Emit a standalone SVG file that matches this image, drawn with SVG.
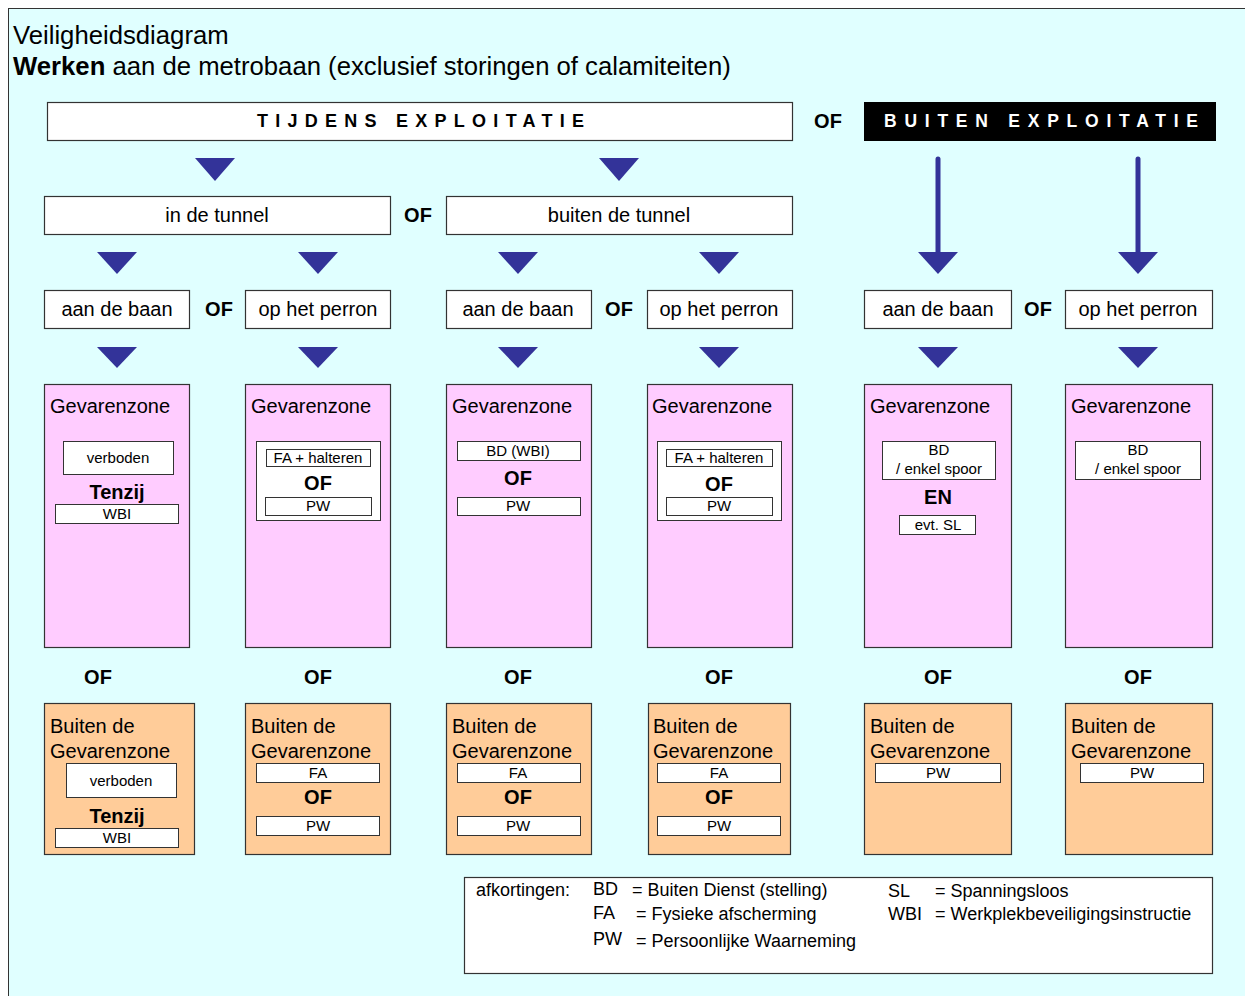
<svg xmlns="http://www.w3.org/2000/svg" width="1245" height="996" viewBox="0 0 1245 996">
<defs>
<style>
text{font-family:"Liberation Sans",Arial,sans-serif;fill:#000}
.box{fill:#fff;stroke:#333;stroke-width:1.2}
.pink{fill:#FFCCFF;stroke:#333;stroke-width:1.2}
.orange{fill:#FFCC99;stroke:#333;stroke-width:1.2}
.ib{fill:#fff;stroke:#333;stroke-width:1}
.tri{fill:#333399}
.t20{font-size:20px}
.b20{font-size:20px;font-weight:bold}
.t15{font-size:15px}
.t18{font-size:18px}
.m{text-anchor:middle}
</style>
</defs>
<rect x="0" y="0" width="1245" height="996" fill="#fff"/>
<rect x="8.5" y="8.5" width="1240" height="992" fill="#E0FFFF" stroke="#333" stroke-width="1"/>

<g id="title">
<text x="13" y="44" style="font-size:25.7px">Veiligheidsdiagram</text>
<text x="13" y="75" style="font-size:25.7px"><tspan font-weight="bold">Werken</tspan> aan de metrobaan (exclusief storingen of calamiteiten)</text>
</g>

<g id="connectors">
<polygon class="tri" points="195,158 235,158 215,181"/>
<polygon class="tri" points="599,158 639,158 619,181"/>
<line x1="938" y1="159" x2="938" y2="256" stroke="#333399" stroke-width="5" stroke-linecap="round"/>
<line x1="1138" y1="159" x2="1138" y2="256" stroke="#333399" stroke-width="5" stroke-linecap="round"/>
<polygon class="tri" points="97,252 137,252 117,274"/>
<polygon class="tri" points="298,252 338,252 318,274"/>
<polygon class="tri" points="498,252 538,252 518,274"/>
<polygon class="tri" points="699,252 739,252 719,274"/>
<polygon class="tri" points="918,252 958,252 938,274"/>
<polygon class="tri" points="1118,252 1158,252 1138,274"/>
<polygon class="tri" points="97,347 137,347 117,368"/>
<polygon class="tri" points="298,347 338,347 318,368"/>
<polygon class="tri" points="498,347 538,347 518,368"/>
<polygon class="tri" points="699,347 739,347 719,368"/>
<polygon class="tri" points="918,347 958,347 938,368"/>
<polygon class="tri" points="1118,347 1158,347 1138,368"/>
</g>

<g id="tijdens">
<rect class="box" x="47.5" y="102.5" width="745" height="38"/>
<text x="257" y="127" style="font-size:18px;font-weight:bold" textLength="327" lengthAdjust="spacing">TIJDENS EXPLOITATIE</text>
</g>
<g id="of-top"><text class="b20 m" x="828" y="128">OF</text></g>
<g id="buiten-exploitatie">
<rect x="864" y="102" width="352" height="39" fill="#000"/>
<text x="884" y="127" style="font-size:17.5px;font-weight:bold;fill:#fff" textLength="314" lengthAdjust="spacing">BUITEN EXPLOITATIE</text>
</g>

<g id="in-de-tunnel">
<rect class="box" x="44.5" y="196.5" width="346" height="38"/>
<text class="t20 m" x="217" y="222">in de tunnel</text>
</g>
<g id="of-tunnel"><text class="b20 m" x="418" y="222">OF</text></g>
<g id="buiten-de-tunnel">
<rect class="box" x="446.5" y="196.5" width="346" height="38"/>
<text class="t20 m" x="619" y="222">buiten de tunnel</text>
</g>

<g id="row3">
<g id="r3a"><rect class="box" x="44.5" y="290.5" width="145" height="38"/><text class="t20 m" x="117" y="316">aan de baan</text></g>
<text class="b20 m" x="219" y="316">OF</text>
<g id="r3b"><rect class="box" x="245.5" y="290.5" width="145" height="38"/><text class="t20 m" x="318" y="316">op het perron</text></g>
<g id="r3c"><rect class="box" x="446.5" y="290.5" width="145" height="38"/><text class="t20 m" x="518" y="316">aan de baan</text></g>
<text class="b20 m" x="619" y="316">OF</text>
<g id="r3d"><rect class="box" x="647.5" y="290.5" width="145" height="38"/><text class="t20 m" x="719" y="316">op het perron</text></g>
<g id="r3e"><rect class="box" x="864.5" y="290.5" width="147" height="38"/><text class="t20 m" x="938" y="316">aan de baan</text></g>
<text class="b20 m" x="1038" y="316">OF</text>
<g id="r3f"><rect class="box" x="1065.5" y="290.5" width="147" height="38"/><text class="t20 m" x="1138" y="316">op het perron</text></g>
</g>

<g id="gz1">
<rect class="pink" x="44.5" y="384.5" width="145" height="263"/>
<text class="t20" x="50" y="413">Gevarenzone</text>
<rect class="ib" x="63.5" y="441.5" width="110" height="33"/>
<text class="t15 m" x="118" y="463">verboden</text>
<text class="b20 m" x="117" y="499">Tenzij</text>
<rect class="ib" x="55.5" y="504.5" width="123" height="19"/>
<text class="t15 m" x="117" y="519">WBI</text>
</g>
<g id="gz2">
<rect class="pink" x="245.5" y="384.5" width="145" height="263"/>
<text class="t20" x="251" y="413">Gevarenzone</text>
<rect class="ib" x="256.5" y="441.5" width="124" height="79"/>
<rect class="ib" x="266.5" y="449.5" width="104" height="17"/>
<text class="t15 m" x="318" y="463">FA + halteren</text>
<text class="b20 m" x="318" y="490">OF</text>
<rect class="ib" x="265.5" y="497.5" width="106" height="18"/>
<text class="t15 m" x="318" y="511">PW</text>
</g>
<g id="gz3">
<rect class="pink" x="446.5" y="384.5" width="145" height="263"/>
<text class="t20" x="452" y="413">Gevarenzone</text>
<rect class="ib" x="457.5" y="441.5" width="123" height="19"/>
<text class="t15 m" x="518" y="456">BD (WBI)</text>
<text class="b20 m" x="518" y="485">OF</text>
<rect class="ib" x="457.5" y="497.5" width="123" height="18"/>
<text class="t15 m" x="518" y="511">PW</text>
</g>
<g id="gz4">
<rect class="pink" x="647.5" y="384.5" width="145" height="263"/>
<text class="t20" x="652" y="413">Gevarenzone</text>
<rect class="ib" x="657.5" y="441.5" width="124" height="79"/>
<rect class="ib" x="666.5" y="449.5" width="106" height="17"/>
<text class="t15 m" x="719" y="463">FA + halteren</text>
<text class="b20 m" x="719" y="491">OF</text>
<rect class="ib" x="666.5" y="497.5" width="106" height="18"/>
<text class="t15 m" x="719" y="511">PW</text>
</g>
<g id="gz5">
<rect class="pink" x="864.5" y="384.5" width="147" height="263"/>
<text class="t20" x="870" y="413">Gevarenzone</text>
<rect class="ib" x="882.5" y="441.5" width="113" height="38"/>
<text class="t15 m" x="939" y="455">BD</text>
<text class="t15 m" x="939" y="474">/ enkel spoor</text>
<text class="b20 m" x="938" y="504">EN</text>
<rect class="ib" x="899.5" y="515.5" width="76" height="19"/>
<text class="t15 m" x="938" y="530">evt. SL</text>
</g>
<g id="gz6">
<rect class="pink" x="1065.5" y="384.5" width="147" height="263"/>
<text class="t20" x="1071" y="413">Gevarenzone</text>
<rect class="ib" x="1075.5" y="441.5" width="125" height="38"/>
<text class="t15 m" x="1138" y="455">BD</text>
<text class="t15 m" x="1138" y="474">/ enkel spoor</text>
</g>

<g id="of-row">
<text class="b20 m" x="98" y="684">OF</text>
<text class="b20 m" x="318" y="684">OF</text>
<text class="b20 m" x="518" y="684">OF</text>
<text class="b20 m" x="719" y="684">OF</text>
<text class="b20 m" x="938" y="684">OF</text>
<text class="b20 m" x="1138" y="684">OF</text>
</g>

<g id="bg1">
<rect class="orange" x="44.5" y="703.5" width="150" height="151"/>
<text class="t20" x="50" y="733">Buiten de</text>
<text class="t20" x="50" y="758">Gevarenzone</text>
<rect class="ib" x="66.5" y="763.5" width="110" height="34"/>
<text class="t15 m" x="121" y="786">verboden</text>
<text class="b20 m" x="117" y="823">Tenzij</text>
<rect class="ib" x="55.5" y="828.5" width="123" height="19"/>
<text class="t15 m" x="117" y="843">WBI</text>
</g>
<g id="bg2">
<rect class="orange" x="245.5" y="703.5" width="145" height="151"/>
<text class="t20" x="251" y="733">Buiten de</text>
<text class="t20" x="251" y="758">Gevarenzone</text>
<rect class="ib" x="256.5" y="763.5" width="123" height="19"/>
<text class="t15 m" x="318" y="778">FA</text>
<text class="b20 m" x="318" y="804">OF</text>
<rect class="ib" x="256.5" y="816.5" width="123" height="19"/>
<text class="t15 m" x="318" y="831">PW</text>
</g>
<g id="bg3">
<rect class="orange" x="446.5" y="703.5" width="145" height="151"/>
<text class="t20" x="452" y="733">Buiten de</text>
<text class="t20" x="452" y="758">Gevarenzone</text>
<rect class="ib" x="457.5" y="763.5" width="123" height="19"/>
<text class="t15 m" x="518" y="778">FA</text>
<text class="b20 m" x="518" y="804">OF</text>
<rect class="ib" x="457.5" y="816.5" width="123" height="19"/>
<text class="t15 m" x="518" y="831">PW</text>
</g>
<g id="bg4">
<rect class="orange" x="648.5" y="703.5" width="142" height="151"/>
<text class="t20" x="653" y="733">Buiten de</text>
<text class="t20" x="653" y="758">Gevarenzone</text>
<rect class="ib" x="657.5" y="763.5" width="123" height="19"/>
<text class="t15 m" x="719" y="778">FA</text>
<text class="b20 m" x="719" y="804">OF</text>
<rect class="ib" x="657.5" y="816.5" width="123" height="19"/>
<text class="t15 m" x="719" y="831">PW</text>
</g>
<g id="bg5">
<rect class="orange" x="864.5" y="703.5" width="147" height="151"/>
<text class="t20" x="870" y="733">Buiten de</text>
<text class="t20" x="870" y="758">Gevarenzone</text>
<rect class="ib" x="875.5" y="763.5" width="125" height="19"/>
<text class="t15 m" x="938" y="778">PW</text>
</g>
<g id="bg6">
<rect class="orange" x="1065.5" y="703.5" width="147" height="151"/>
<text class="t20" x="1071" y="733">Buiten de</text>
<text class="t20" x="1071" y="758">Gevarenzone</text>
<rect class="ib" x="1080.5" y="763.5" width="123" height="19"/>
<text class="t15 m" x="1142" y="778">PW</text>
</g>

<g id="legend">
<rect class="box" x="464.5" y="877.5" width="748" height="96"/>
<text class="t18" x="476" y="896">afkortingen:</text>
<text class="t18" x="593" y="895">BD</text>
<text class="t18" x="632" y="896">= Buiten Dienst (stelling)</text>
<text class="t18" x="593" y="919">FA</text>
<text class="t18" x="636" y="920">= Fysieke afscherming</text>
<text class="t18" x="593" y="945">PW</text>
<text class="t18" x="636" y="947">= Persoonlijke Waarneming</text>
<text class="t18" x="888" y="897">SL</text>
<text class="t18" x="935" y="897">= Spanningsloos</text>
<text class="t18" x="888" y="920">WBI</text>
<text class="t18" x="935" y="920">= Werkplekbeveiligingsinstructie</text>
</g>
</svg>
